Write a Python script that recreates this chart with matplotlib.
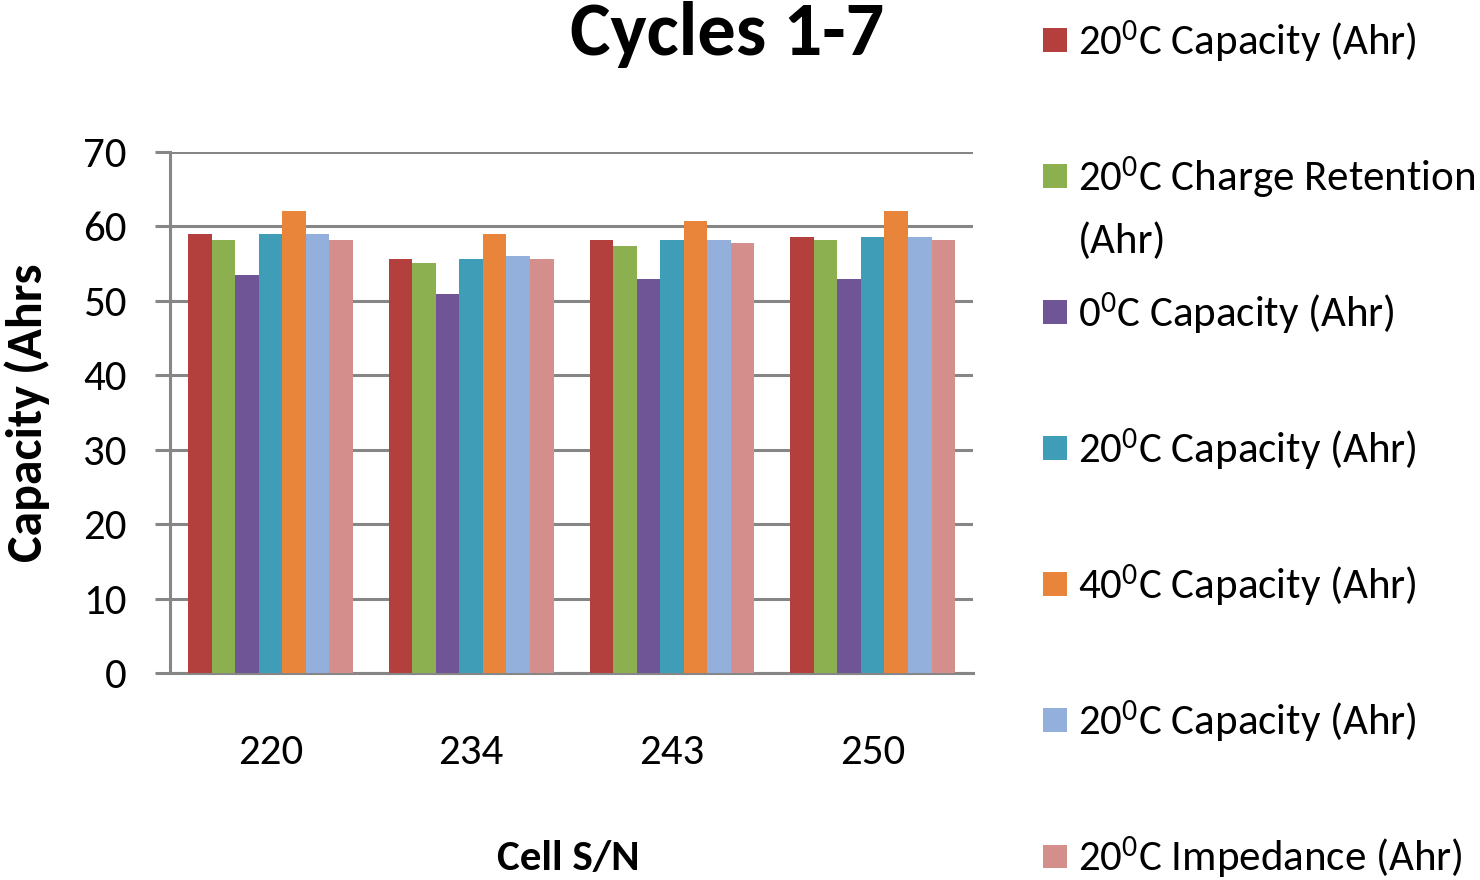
import matplotlib
matplotlib.use("Agg")
import matplotlib.pyplot as plt
from matplotlib.text import Annotation
import numpy as np

plt.rcParams['font.family'] = ['Carlito', 'DejaVu Sans']
plt.rcParams['mathtext.fontset'] = 'custom'
plt.rcParams['mathtext.rm'] = 'Carlito'
plt.rcParams['mathtext.default'] = 'regular'

# Cell serial numbers on the x axis
cells = ['220', '234', '243', '250']

# Capacity readings (Ahr) per test, one value per cell
cap_20c_a = [59.0, 55.6, 58.1, 58.6]
retention_20c = [58.1, 55.1, 57.3, 58.1]
cap_0c = [53.5, 50.9, 52.9, 52.9]
cap_20c_b = [59.0, 55.6, 58.1, 58.6]
cap_40c = [62.0, 59.0, 60.7, 62.0]
cap_20c_c = [59.0, 56.0, 58.1, 58.6]
impedance_20c = [58.1, 55.6, 57.7, 58.1]

series = [cap_20c_a, retention_20c, cap_0c, cap_20c_b, cap_40c, cap_20c_c, impedance_20c]
labels = ['20$^{0}$C Capacity (Ahr)',
          '20$^{0}$C Charge Retention',
          '0$^{0}$C Capacity (Ahr)',
          '20$^{0}$C Capacity (Ahr)',
          '40$^{0}$C Capacity (Ahr)',
          '20$^{0}$C Capacity (Ahr)',
          '20$^{0}$C Impedance (Ahr)']
colors = ['#b3403d', '#8cb04f', '#6f5596', '#3f9db7', '#e9853b', '#93afdb', '#d48f8d']

fig = plt.figure(figsize=(14.8, 8.8), dpi=100)
ax = fig.add_axes([0.1149, 0.2352, 0.5426, 0.5924])

x = np.arange(len(cells))
group_w = 0.82
bar_w = group_w / len(series)
for i, (vals, lab, col) in enumerate(zip(series, labels, colors)):
    offs = -group_w / 2 + bar_w * (i + 0.5)
    ax.bar(x + offs, vals, width=bar_w, color=col, label=lab, zorder=3)

ax.set_xlim(-0.5, len(cells) - 0.5)
ax.set_ylim(0, 70)
ax.set_yticks(np.arange(0, 71, 10))
ax.set_xticks(x)
ax.set_xticklabels(cells)

grid_col = '#868686'
ax.yaxis.grid(True, color=grid_col, linewidth=2.2, zorder=0)
for s in ['top', 'right']:
    ax.spines[s].set_visible(False)
for s in ['left', 'bottom']:
    ax.spines[s].set_color(grid_col)
    ax.spines[s].set_linewidth(2.2)
ax.tick_params(axis='y', length=11, width=2.2, color=grid_col, pad=20, labelsize=31)
ax.tick_params(axis='x', length=0, pad=44, labelsize=31)

ax.set_xlabel('Cell S/N', fontsize=31, fontweight='bold', va='top')
ax.xaxis.set_label_coords(0.496, -0.32)
ax.set_ylabel('Capacity (Ahrs', fontsize=36, fontweight='bold')
ax.yaxis.set_label_coords(-0.15, 0.5)
fig.text(0.491, 0.9375, 'Cycles 1-7', fontsize=55, fontweight='bold', ha='center', va='baseline')

leg = fig.legend(loc='upper left', bbox_to_anchor=(0.7047, 0.979), frameon=False,
                 fontsize=31, handlelength=0.56, handleheight=0.47,
                 handletextpad=0.26, labelspacing=2.09, borderpad=0, borderaxespad=0)
# second line of the wrapped "Charge Retention" entry, drawn after the legend
wrap = Annotation('(Ahr)', xy=(0, 0), xycoords=leg.get_texts()[1], xytext=(0, -38),
                  textcoords='offset points', fontsize=31, va='baseline', ha='left', zorder=6)
fig.add_artist(wrap)

fig.savefig('out.png', dpi=100)
